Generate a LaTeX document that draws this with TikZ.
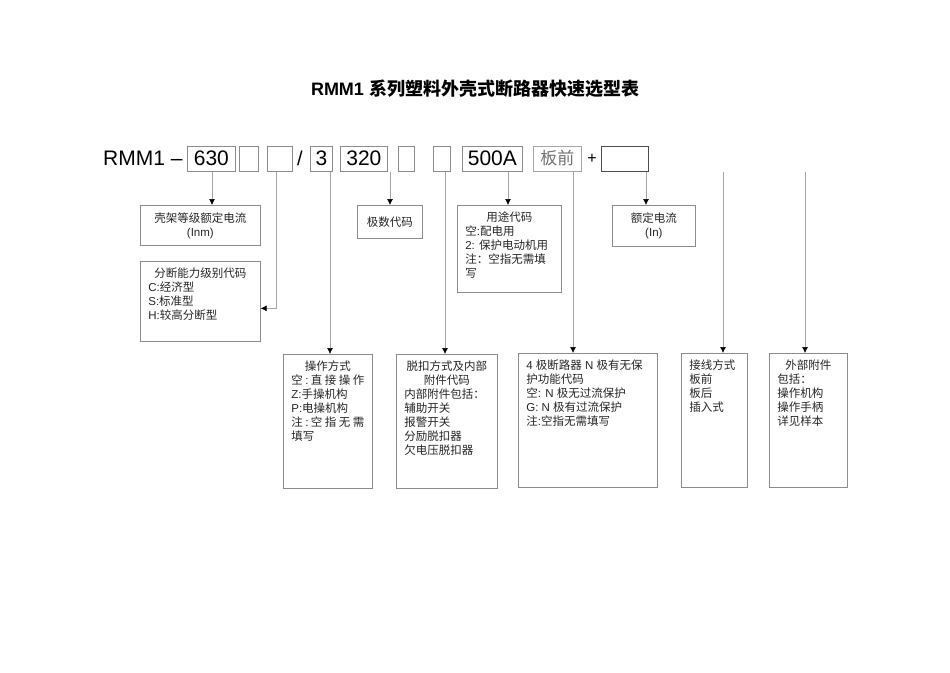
\documentclass[tikz,border=0pt]{standalone}
\usepackage{fontspec}
\setmainfont{Liberation Sans}
\newfontfamily\cjk{Noto Sans CJK SC}
\usetikzlibrary{arrows.meta}
\newcommand{\zh}[1]{{\cjk #1}}
\newcommand{\ctrline}[1]{\hfill#1\hfill\null}
\newcommand{\boxtxt}[3]{\parbox[t][#2pt][t]{#1pt}{\raggedright #3}}
\tikzset{
  codebox/.style={draw=black!45, line width=0.7pt, minimum height=25pt, inner sep=0pt, anchor=west, font=\fontsize{21}{24}\selectfont},
  lowbox/.style={draw=black!45, line width=0.7pt, inner xsep=8pt, inner ysep=6pt, anchor=north west, font=\fontsize{11.5}{14}\selectfont, text=black!85},
  arr/.style={draw=black!35, line width=0.7pt, -{Latex[length=6pt,width=6pt,black]}}
}
\begin{document}
\begin{tikzpicture}[x=1pt,y=-1pt]
\useasboundingbox[fill=white] (0,0) rectangle (950,672);

% title
\node[font=\fontsize{18}{22}\selectfont\bfseries] (title) at (475,89) {RMM1 \zh{系列塑料外壳式断路器快速选型表}};

% code row
\node[anchor=west, inner sep=0pt, font=\fontsize{21}{24}\selectfont] (rmm) at (103,158.5) {RMM1 –};
\node[codebox, minimum width=48pt] (b1) at (187,158.5) {630};
\node[codebox, minimum width=19pt] (b2) at (239,158.5) {};
\node[codebox, minimum width=25pt] (b3) at (267,158.5) {};
\node[anchor=center, inner sep=0pt, font=\fontsize{20}{24}\selectfont] (slash) at (300,158.5) {/};
\node[codebox, minimum width=22pt] (b4) at (310,158.5) {3};
\node[codebox, minimum width=47pt] (b5) at (340,158.5) {320};
\node[codebox, minimum width=16pt] (b6) at (398,158.5) {};
\node[codebox, minimum width=17pt] (b7) at (433,158.5) {};
\node[codebox, minimum width=60pt] (b8) at (462,158.5) {500A};
\node[codebox, minimum width=48pt, draw=black!35, text=black!55, font=\fontsize{17}{20}\selectfont] (b9) at (533,158.5) {\zh{板前}};
\node[anchor=center, inner sep=0pt, font=\fontsize{16}{20}\selectfont] (plus) at (592,158.5) {+};
\node[codebox, minimum width=47pt, draw=black!70] (b10) at (601,158.5) {};

% upper row of boxes
\node[lowbox, minimum width=120pt, minimum height=40pt, align=center] (kj) at (140,205) {\zh{壳架等级额定电流}\\(Inm)};
\node[lowbox] (fd) at (140,261) {\boxtxt{104}{68}{\ctrline{\zh{分断能力级别代码}}\\
  C:\zh{经济型}\\
  S:\zh{标准型}\\
  H:\zh{较高分断型}}};
\node[lowbox, minimum width=65pt, minimum height=33pt, align=center] (js) at (357,205) {\zh{极数代码}};
\node[lowbox] (yt) at (457,205) {\boxtxt{88}{75}{\ctrline{\zh{用途代码}}\\
  \zh{空}:\zh{配电用}\\
  2: \zh{保护电动机用}\\
  \zh{注：空指无需填}\\
  \zh{写}}};
\node[lowbox, minimum width=83pt, minimum height=41pt, align=center] (ed) at (612,205) {\zh{额定电流}\\(In)};

% lower row of boxes
\node[lowbox] (cz) at (283,354) {\boxtxt{73}{122}{\ctrline{\zh{操作方式}}\\
  \zh{空}\hfill:\hfill\zh{直}\hfill\zh{接}\hfill\zh{操}\hfill\zh{作}\\
  Z:\zh{手操机构}\\
  P:\zh{电操机构}\\
  \zh{注}\hfill:\hfill\zh{空}\hfill\zh{指}\hfill\zh{无}\hfill\zh{需}\\
  \zh{填写}}};
\node[lowbox] (tk) at (396,354) {\boxtxt{85}{122}{\ctrline{\zh{脱扣方式及内部}}\\
  \ctrline{\zh{附件代码}}\\
  \zh{内部附件包括：}\\
  \zh{辅助开关}\\
  \zh{报警开关}\\
  \zh{分励脱扣器}\\
  \zh{欠电压脱扣器}}};
\node[lowbox] (jx) at (518,353) {\boxtxt{123}{122}{4 \zh{极断路器} N \zh{极有无保}\\
  \zh{护功能代码}\\
  \zh{空}: N \zh{极无过流保护}\\
  G: N \zh{极有过流保护}\\
  \zh{注}:\zh{空指无需填写}}};
\node[lowbox] (jxfs) at (681,353) {\boxtxt{50}{122}{\zh{接线方式}\\
  \zh{板前}\\
  \zh{板后}\\
  \zh{插入式}}};
\node[lowbox] (wb) at (769,353) {\boxtxt{62}{122}{\ctrline{\zh{外部附件}}\\
  \zh{包括：}\\
  \zh{操作机构}\\
  \zh{操作手柄}\\
  \zh{详见样本}}};

% connectors
\coordinate (t1) at (212,172);
\coordinate (t2) at (276,172);
\coordinate (t3) at (330,172);
\coordinate (t4) at (390,172);
\coordinate (t5) at (445,172);
\coordinate (t6) at (508,172);
\coordinate (t7) at (573,172);
\coordinate (t8) at (646,172);
\coordinate (t9) at (723,172);
\coordinate (t10) at (805,172);
\draw[arr] (t1) -- (t1 |- kj.north);
\draw[arr] (t2) |- ([yshift=-7pt]fd.east);
\draw[arr] (t3) -- (t3 |- cz.north);
\draw[arr] (t4) -- (t4 |- js.north);
\draw[arr] (t5) -- (t5 |- tk.north);
\draw[arr] (t6) -- (t6 |- yt.north);
\draw[arr] (t7) -- (t7 |- jx.north);
\draw[arr] (t8) -- (t8 |- ed.north);
\draw[arr] (t9) -- (t9 |- jxfs.north);
\draw[arr] (t10) -- (t10 |- wb.north);
\end{tikzpicture}
\end{document}
